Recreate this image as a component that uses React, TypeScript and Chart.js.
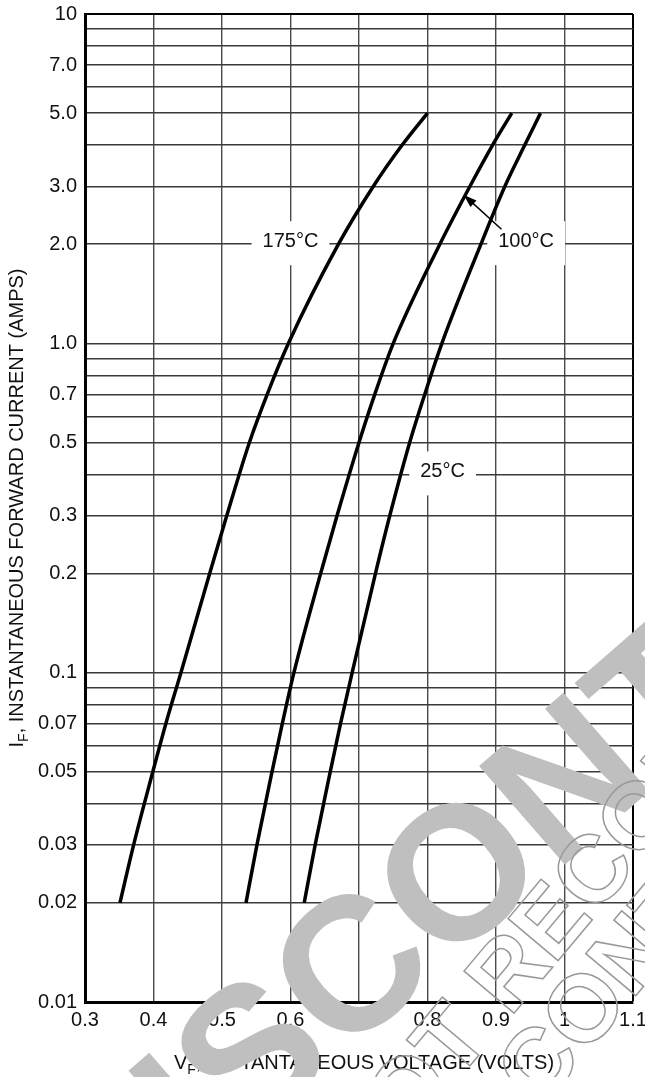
import React, { useEffect, useRef } from "react";
import { Chart, registerables } from "chart.js";

Chart.register(...registerables);

// ---- data ----
const currentLevels = [0.02, 0.03, 0.05, 0.07, 0.1, 0.2, 0.3, 0.5, 0.7, 1, 2, 3, 4, 5];
const volts175 = [0.351, 0.371, 0.399, 0.418, 0.44, 0.482, 0.507, 0.54, 0.566, 0.597, 0.67, 0.721, 0.763, 0.8];
const volts100 = [0.535, 0.551, 0.573, 0.588, 0.605, 0.644, 0.668, 0.7, 0.723, 0.75, 0.818, 0.862, 0.895, 0.923];
const volts25 = [0.62, 0.636, 0.658, 0.673, 0.69, 0.724, 0.745, 0.774, 0.796, 0.821, 0.878, 0.913, 0.942, 0.965];

const xTickValues = [0.3, 0.4, 0.5, 0.6, 0.7, 0.8, 0.9, 1.0, 1.1];
const xTickLabels = ["0.3", "0.4", "0.5", "0.6", "0.7", "0.8", "0.9", "1", "1.1"];

const yGridValues = [
  0.01, 0.02, 0.03, 0.04, 0.05, 0.06, 0.07, 0.08, 0.09,
  0.1, 0.2, 0.3, 0.4, 0.5, 0.6, 0.7, 0.8, 0.9,
  1, 2, 3, 4, 5, 6, 7, 8, 9, 10,
];
const yLabelValues = [0.01, 0.02, 0.03, 0.05, 0.07, 0.1, 0.2, 0.3, 0.5, 0.7, 1, 2, 3, 5, 7, 10];
const yLabelTexts = ["0.01", "0.02", "0.03", "0.05", "0.07", "0.1", "0.2", "0.3", "0.5", "0.7", "1.0", "2.0", "3.0", "5.0", "7.0", "10"];

const curveLabels = ["175°C", "100°C", "25°C"];
const curveLabelX = [0.6, 0.944, 0.822];
const curveLabelY = [2.0, 2.0, 0.4];

// arrow from the 100°C label to its curve
const arrowFrom = { x: 0.908, y: 2.22 };
const arrowTo = { x: 0.853, y: 2.82 };

const FONT = "'Liberation Sans', Arial, Helvetica, sans-serif";

function toPoints(xs: number[], ys: number[]) {
  return xs.map((x, i) => ({ x, y: ys[i] }));
}

const annotationPlugin = {
  id: "annotations",
  beforeDatasetsDraw(chart: any) {
    const ctx = chart.ctx;
    const xs = chart.scales.x;
    const ys = chart.scales.y;
    ctx.save();
    // curve labels on white boxes (curves drawn over them)
    ctx.font = `20px ${FONT}`;
    ctx.textAlign = "center";
    ctx.textBaseline = "middle";
    curveLabels.forEach((t, i) => {
      const px = xs.getPixelForValue(curveLabelX[i]);
      const py = ys.getPixelForValue(curveLabelY[i]);
      const w = ctx.measureText(t).width + 22;
      ctx.fillStyle = "#fff";
      ctx.fillRect(px - w / 2, py - 23, w, 44);
      ctx.fillStyle = "#111";
      ctx.fillText(t, px, py - 3);
    });
    ctx.restore();
  },
  afterDatasetsDraw(chart: any) {
    const ctx = chart.ctx;
    const xs = chart.scales.x;
    const ys = chart.scales.y;
    ctx.save();
    const fx = xs.getPixelForValue(arrowFrom.x);
    const fy = ys.getPixelForValue(arrowFrom.y);
    const tx = xs.getPixelForValue(arrowTo.x);
    const ty = ys.getPixelForValue(arrowTo.y);
    const ang = Math.atan2(ty - fy, tx - fx);
    ctx.strokeStyle = "#000";
    ctx.fillStyle = "#000";
    ctx.lineWidth = 1.5;
    ctx.beginPath();
    ctx.moveTo(fx, fy);
    ctx.lineTo(tx - 8 * Math.cos(ang), ty - 8 * Math.sin(ang));
    ctx.stroke();
    ctx.beginPath();
    ctx.moveTo(tx, ty);
    ctx.lineTo(tx - 13 * Math.cos(ang) + 4.5 * Math.sin(ang), ty - 13 * Math.sin(ang) - 4.5 * Math.cos(ang));
    ctx.lineTo(tx - 13 * Math.cos(ang) - 4.5 * Math.sin(ang), ty - 13 * Math.sin(ang) + 4.5 * Math.cos(ang));
    ctx.closePath();
    ctx.fill();
    ctx.restore();
  },
  afterDraw(chart: any) {
    const ctx = chart.ctx;
    const area = chart.chartArea;
    ctx.save();
    ctx.fillStyle = "#111";
    ctx.textBaseline = "alphabetic";
    // y title
    const main = `20px ${FONT}`;
    const sub = `14px ${FONT}`;
    const yRest = ", INSTANTANEOUS FORWARD CURRENT (AMPS)";
    ctx.font = main;
    const wI = ctx.measureText("I").width;
    const wRest = ctx.measureText(yRest).width;
    ctx.font = sub;
    const wF = ctx.measureText("F").width;
    const total = wI + wF + wRest;
    ctx.save();
    ctx.translate(23, (area.top + area.bottom) / 2);
    ctx.rotate(-Math.PI / 2);
    const x0 = -total / 2;
    ctx.font = main;
    ctx.fillText("I", x0, 0);
    ctx.font = sub;
    ctx.fillText("F", x0 + wI, 5);
    ctx.font = main;
    ctx.fillText(yRest, x0 + wI + wF, 0);
    ctx.restore();

    // x title
    const xRest = ", INSTANTANEOUS VOLTAGE (VOLTS)";
    ctx.font = main;
    const wV = ctx.measureText("V").width;
    const wXR = ctx.measureText(xRest).width;
    const tot2 = wV + wF + wXR;
    const sx = (area.left + area.right) / 2 - tot2 / 2 + 5;
    const by = 1069;
    ctx.fillText("V", sx, by);
    ctx.font = sub;
    ctx.fillText("F", sx + wV, by + 5);
    ctx.font = main;
    ctx.fillText(xRest, sx + wV + wF, by);

    // watermark
    const anchored = (text: string, idx: number, cx: number, cy: number, deg: number, stroke: boolean) => {
      ctx.save();
      ctx.translate(cx, cy);
      ctx.rotate((deg * Math.PI) / 180);
      ctx.textAlign = "left";
      ctx.textBaseline = "middle";
      const pre = ctx.measureText(text.slice(0, idx)).width;
      const w = ctx.measureText(text[idx]).width;
      if (stroke) ctx.strokeText(text, -pre - w / 2, 0);
      else ctx.fillText(text, -pre - w / 2, 0);
      ctx.restore();
    };
    ctx.fillStyle = "#bfbfbf";
    ctx.font = `bold 190px ${FONT}`;
    anchored("DISCONTINUED", 2, 258, 1062, -41, false);
    ctx.strokeStyle = "#999";
    ctx.lineWidth = 1.5;
    ctx.font = `bold 95px ${FONT}`;
    anchored("NOT RECOMMENDED", 4, 512, 975, -50, true);
    anchored("CONTACT", 1, 588, 1012, -50, true);
    ctx.restore();
  },
};

export default function App() {
  const ref = useRef<HTMLCanvasElement | null>(null);
  useEffect(() => {
    document.body.style.margin = "0";
    const canvas = ref.current!;
    const lineDs = (xs: number[]) => ({
      data: toPoints(xs, currentLevels),
      showLine: true,
      borderColor: "#000",
      backgroundColor: "#000",
      borderWidth: 3.5,
      pointRadius: 0,
      cubicInterpolationMode: "monotone" as const,
      fill: false,
    });
    const chart = new Chart(canvas, {
      type: "scatter",
      data: { datasets: [lineDs(volts175), lineDs(volts100), lineDs(volts25)] },
      options: {
        animation: false,
        responsive: false,
        devicePixelRatio: 1,
        layout: { padding: { top: 14, right: 12, left: 0, bottom: 0 } },
        plugins: { legend: { display: false }, tooltip: { enabled: false }, title: { display: false } },
        scales: {
          x: {
            type: "linear",
            min: 0.3,
            max: 1.1,
            afterBuildTicks: (s: any) => {
              s.ticks = xTickValues.map((v) => ({ value: v }));
            },
            afterFit: (s: any) => {
              s.height = 75;
              s.paddingLeft = 0;
              s.paddingRight = 0;
            },
            ticks: {
              autoSkip: false,
              maxRotation: 0,
              padding: 6,
              color: "#111",
              font: { family: FONT, size: 20 },
              callback: (v: any) => {
                const i = xTickValues.findIndex((t) => Math.abs(t - v) < 1e-6);
                return i >= 0 ? xTickLabels[i] : "";
              },
            },
            grid: {
              drawTicks: false,
              color: (c: any) => (c.index === xTickValues.length - 1 ? "#000" : "#4a4a4a"),
              lineWidth: (c: any) => (c.index === xTickValues.length - 1 ? 2 : 1.4),
            },
            border: { color: "#000", width: 3 },
          },
          y: {
            type: "logarithmic",
            min: 0.01,
            max: 10,
            afterBuildTicks: (s: any) => {
              s.ticks = yGridValues.map((v) => ({ value: v }));
            },
            afterFit: (s: any) => {
              s.width = 85;
              s.paddingTop = 0;
              s.paddingBottom = 0;
            },
            ticks: {
              autoSkip: false,
              padding: 8,
              color: "#111",
              font: { family: FONT, size: 20 },
              callback: (v: any) => {
                const i = yLabelValues.findIndex((t) => Math.abs(Math.log10(t) - Math.log10(v)) < 1e-6);
                return i >= 0 ? yLabelTexts[i] : "";
              },
            },
            grid: {
              drawTicks: false,
              color: (c: any) => (c.index === yGridValues.length - 1 ? "#000" : "#3a3a3a"),
              lineWidth: (c: any) => (c.index === yGridValues.length - 1 ? 2 : 1.4),
            },
            border: { color: "#000", width: 3 },
          },
        },
      },
      plugins: [annotationPlugin],
    } as any);
    return () => chart.destroy();
  }, []);
  return (
    <div style={{ position: "absolute", left: 0, top: 0, width: 645, height: 1077, background: "#fff" }}>
      <canvas ref={ref} width={645} height={1077} style={{ width: 645, height: 1077, display: "block" }} />
    </div>
  );
}
